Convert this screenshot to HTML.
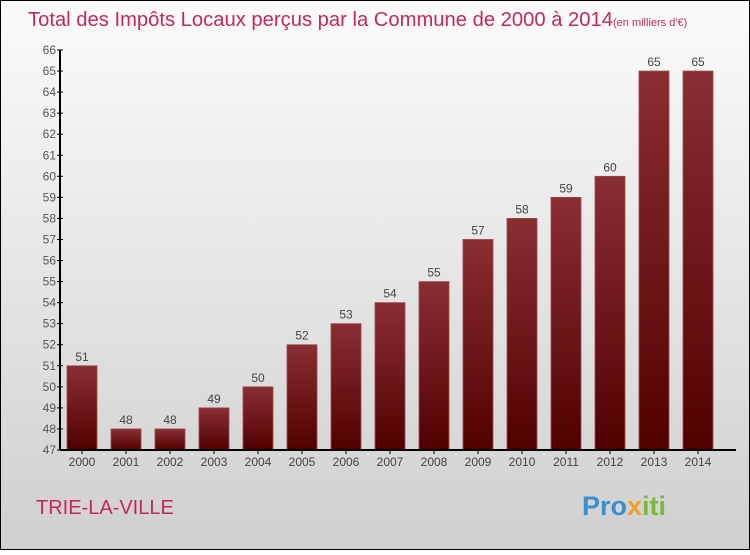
<!DOCTYPE html>
<html><head><meta charset="utf-8"><style>
body{margin:0;}
svg text{font-family:"Liberation Sans",sans-serif;}
</style></head><body>
<svg width="750" height="550" xmlns="http://www.w3.org/2000/svg">
<defs>
<linearGradient id="bg" x1="0" y1="0" x2="0" y2="1"><stop offset="0" stop-color="#fbfbfb"/><stop offset="1" stop-color="#cfcfcf"/></linearGradient>
<linearGradient id="bar" x1="0" y1="0" x2="0" y2="1"><stop offset="0" stop-color="#8a2e33"/><stop offset="1" stop-color="#520000"/></linearGradient>
</defs>
<rect x="0.5" y="0.5" width="749" height="549" fill="url(#bg)" stroke="#000"/>
<text x="28" y="26" font-size="20" fill="#c4285a"><tspan textLength="585" lengthAdjust="spacingAndGlyphs">Total des Impôts Locaux perçus par la Commune de 2000 à 2014</tspan><tspan font-size="11">(en milliers d'€)</tspan></text>
<g id="yaxis"></g>
<g id="bars"></g>
<g id="xaxis"></g>
<text x="36" y="514" font-size="20" fill="#c4285a">TRIE-LA-VILLE</text>
<text x="582" y="515" font-size="27" font-weight="bold" fill="#f08a1a"><tspan fill="#3a8fd0">Pro</tspan><tspan fill="#f0a020">x</tspan><tspan fill="#7cb83a">iti</tspan></text>
</svg>
<script>
const years=["2000","2001","2002","2003","2004","2005","2006","2007","2008","2009","2010","2011","2012","2013","2014"];
const values=[51,48,48,49,50,52,53,54,55,57,58,59,60,65,65];
const yTicks=[47,48,49,50,51,52,53,54,55,56,57,58,59,60,61,62,63,64,65,66];
const NS="http://www.w3.org/2000/svg";
const yMin=47,yMax=66,plotTop=50,plotBot=450,plotLeft=60;
const yS=v=>plotBot-(v-yMin)*(plotBot-plotTop)/(yMax-yMin);
const xS=i=>82+i*44;
function mk(t,a,p){const e=document.createElementNS(NS,t);for(const k in a)e.setAttribute(k,a[k]);p.appendChild(e);return e;}
const ya=document.getElementById('yaxis'),ba=document.getElementById('bars'),xa=document.getElementById('xaxis');
const yl=mk('line',{x1:plotLeft,y1:plotTop,x2:plotLeft,y2:plotBot,stroke:'#000','stroke-width':2},ya);


yTicks.forEach(t=>{
 const l=mk('line',{x1:plotLeft-3,x2:plotLeft+3,y1:yS(t),y2:yS(t),stroke:'#000'},ya);
 
 
 const tx=mk('text',{x:plotLeft-4,y:yS(t)+4,'font-size':12,fill:'#555','text-anchor':'end'},ya);
 tx.textContent=t;
 
 
});
const xl=mk('line',{x1:plotLeft,y1:plotBot,x2:736,y2:plotBot,stroke:'#000','stroke-width':2},xa);


years.forEach((yr,i)=>{
 const r=mk('rect',{x:xS(i)-15,y:yS(values[i]),width:30,height:plotBot-yS(values[i]),fill:'url(#bar)',stroke:'#9a4a4e','stroke-width':0.8},ba);
 
 
 const v=mk('text',{x:xS(i),y:yS(values[i])-5,'font-size':12,fill:'#444','text-anchor':'middle'},ba);
 v.textContent=values[i];
 
 
 const tk=mk('line',{x1:xS(i),x2:xS(i),y1:plotBot,y2:plotBot+4,stroke:'#000'},xa);
 
 
 const t=mk('text',{x:xS(i),y:plotBot+16,'font-size':12,fill:'#444','text-anchor':'middle'},xa);
 t.textContent=yr;
 
 
});
</script>
</body></html>
